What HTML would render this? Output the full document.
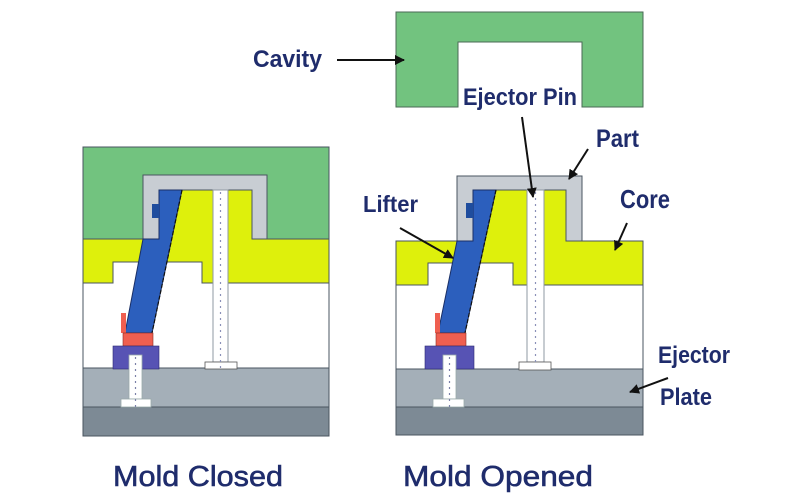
<!DOCTYPE html>
<html><head><meta charset="utf-8"><style>
html,body{margin:0;padding:0;background:#fff;width:800px;height:500px;overflow:hidden}
svg{display:block}
text{font-family:"Liberation Sans",sans-serif;font-weight:bold;fill:#1f2c6c}
</style></head><body>
<svg width="800" height="500" viewBox="0 0 800 500" xmlns="http://www.w3.org/2000/svg">
<defs>
<marker id="ah" viewBox="0 0 10 10" refX="9" refY="5" markerWidth="5" markerHeight="5" orient="auto-start-reverse">
<path d="M0,0 L10,5 L0,10 z" fill="#111"/>
</marker>
</defs>

<!-- ===== LEFT: Mold Closed ===== -->
<g stroke="#4a5560" stroke-width="1">
<rect x="83" y="147" width="246" height="92" fill="#72c37f"/>
<rect x="83" y="239" width="246" height="129" fill="#fff"/>
<path d="M83,239 H143 V190 H252 V239 H329 V283 H202 V262 H113 V283 H83 Z" fill="#def00c"/>
<path d="M143,175 H267 V239 H252 V190 H159 V239 H143 Z" fill="#c8cdd3"/>
<rect x="83" y="368" width="246" height="39" fill="#a4afb8"/>
<rect x="83" y="407" width="246" height="29" fill="#7d8a95"/>
</g>
<path d="M159,190 H182 L152,333 H125 L143,239 H159 Z" fill="#2c5fbd" stroke="#1a2f66" stroke-width="1"/>
<line x1="182" y1="190" x2="152" y2="333" stroke="#111" stroke-width="1.2" stroke-dasharray="4,2"/>
<rect x="152" y="204" width="7" height="14" fill="#1f4d9e"/>
<rect x="121" y="313" width="5" height="20" fill="#ef5f50"/>
<rect x="123" y="333" width="30" height="13" fill="#ef5f50" stroke="#8a2a20" stroke-width="0.6"/>
<rect x="113" y="346" width="46" height="23" fill="#5753b4" stroke="#2a2870" stroke-width="0.6"/>
<rect x="129" y="355" width="13" height="44" fill="#fff" stroke="#9aa" stroke-width="0.8"/>
<rect x="121" y="399" width="30" height="8" fill="#fff" stroke="#9aa" stroke-width="0.8"/>
<line x1="135.5" y1="357" x2="135.5" y2="410" stroke="#7a80a8" stroke-width="1.2" stroke-dasharray="2,4"/>
<rect x="213" y="190" width="15" height="172" fill="#fff" stroke="#8f99a3" stroke-width="1"/>
<rect x="205" y="362" width="32" height="7" fill="#fff" stroke="#555" stroke-width="0.8"/>
<line x1="220.5" y1="192" x2="220.5" y2="372" stroke="#8a90b8" stroke-width="1.2" stroke-dasharray="2,4"/>

<!-- ===== RIGHT: Mold Opened ===== -->
<path d="M396,12 H643 V107 H582 V42 H458 V107 H396 Z" fill="#72c37f" stroke="#4a6a55" stroke-width="1"/>
<g stroke="#4a5560" stroke-width="1">
<rect x="396" y="241" width="247" height="128" fill="#fff"/>
<path d="M396,241 H457 V190 H566 V241 H643 V285 H513 V263 H428 V285 H396 Z" fill="#def00c"/>
<path d="M457,176 H582 V241 H566 V190 H473 V241 H457 Z" fill="#c8cdd3"/>
<rect x="396" y="369" width="247" height="38" fill="#a4afb8"/>
<rect x="396" y="407" width="247" height="28" fill="#7d8a95"/>
</g>
<path d="M473,190 H496 L465,333 H438 L457,241 H473 Z" fill="#2c5fbd" stroke="#1a2f66" stroke-width="1"/>
<line x1="496" y1="190" x2="465" y2="333" stroke="#111" stroke-width="1.2" stroke-dasharray="4,2"/>
<rect x="466" y="203" width="7" height="15" fill="#1f4d9e"/>
<rect x="435" y="313" width="5" height="20" fill="#ef5f50"/>
<rect x="436" y="333" width="30" height="13" fill="#ef5f50" stroke="#8a2a20" stroke-width="0.6"/>
<rect x="425" y="346" width="49" height="23" fill="#5753b4" stroke="#2a2870" stroke-width="0.6"/>
<rect x="443" y="355" width="13" height="44" fill="#fff" stroke="#9aa" stroke-width="0.8"/>
<rect x="433" y="399" width="31" height="8" fill="#fff" stroke="#9aa" stroke-width="0.8"/>
<line x1="449.5" y1="357" x2="449.5" y2="410" stroke="#7a80a8" stroke-width="1.2" stroke-dasharray="2,4"/>
<rect x="527" y="190" width="17" height="172" fill="#fff" stroke="#8f99a3" stroke-width="1"/>
<rect x="519" y="362" width="32" height="8" fill="#fff" stroke="#555" stroke-width="0.8"/>
<line x1="535.5" y1="192" x2="535.5" y2="362" stroke="#8a90b8" stroke-width="1.2" stroke-dasharray="2,4"/>

<!-- ===== arrows ===== -->
<g stroke="#111" stroke-width="2" fill="none" marker-end="url(#ah)">
<line x1="337" y1="60" x2="404" y2="60"/>
<line x1="522" y1="117" x2="533" y2="197"/>
<line x1="588" y1="149" x2="569" y2="179"/>
<line x1="400" y1="228" x2="453" y2="258"/>
<line x1="627" y1="223" x2="615" y2="250"/>
<line x1="668" y1="378" x2="630" y2="392"/>
</g>

<!-- ===== labels ===== -->
<text x="253" y="67" font-size="24" textLength="69" lengthAdjust="spacingAndGlyphs">Cavity</text>
<text x="463" y="105" font-size="24" textLength="114" lengthAdjust="spacingAndGlyphs">Ejector Pin</text>
<text x="596" y="147" font-size="25" textLength="43" lengthAdjust="spacingAndGlyphs">Part</text>
<text x="620" y="208" font-size="26" textLength="50" lengthAdjust="spacingAndGlyphs">Core</text>
<text x="363" y="212" font-size="23" textLength="55" lengthAdjust="spacingAndGlyphs">Lifter</text>
<text x="658" y="363" font-size="24" textLength="72" lengthAdjust="spacingAndGlyphs">Ejector</text>
<text x="660" y="405" font-size="24" textLength="52" lengthAdjust="spacingAndGlyphs">Plate</text>
<text x="113" y="486" font-size="29" textLength="170" lengthAdjust="spacingAndGlyphs" style="font-weight:normal;stroke:#1f2c6c;stroke-width:0.6">Mold Closed</text>
<text x="403" y="486" font-size="29" textLength="190" lengthAdjust="spacingAndGlyphs" style="font-weight:normal;stroke:#1f2c6c;stroke-width:0.6">Mold Opened</text>
</svg>
</body></html>
